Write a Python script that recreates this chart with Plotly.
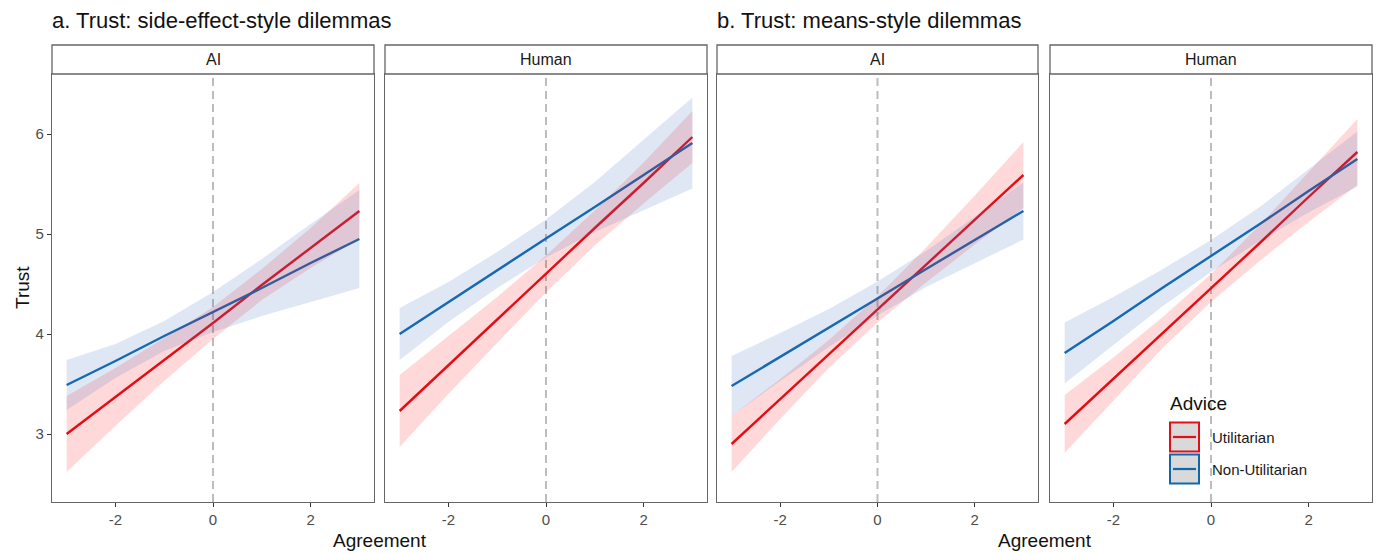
import plotly.graph_objects as go

# ---------------- data ----------------
agreement = [-3, -2, -1, 0, 1, 2, 3]

panels = ["a_AI", "a_Human", "b_AI", "b_Human"]
strip_labels = ["AI", "Human", "AI", "Human"]

# Utilitarian (red)
util_fit = {
    "a_AI":    [3.00, 3.37, 3.74, 4.11, 4.49, 4.86, 5.23],
    "a_Human": [3.23, 3.69, 4.14, 4.60, 5.06, 5.51, 5.97],
    "b_AI":    [2.90, 3.35, 3.80, 4.245, 4.69, 5.14, 5.59],
    "b_Human": [3.10, 3.55, 4.01, 4.46, 4.91, 5.37, 5.82],
}
util_low = {
    "a_AI":    [2.62, 3.08, 3.53, 3.95, 4.34, 4.66, 4.95],
    "a_Human": [2.87, 3.40, 3.91, 4.415, 4.885, 5.305, 5.71],
    "b_AI":    [2.62, 3.15, 3.66, 4.115, 4.515, 4.895, 5.26],
    "b_Human": [2.81, 3.335, 3.855, 4.32, 4.73, 5.12, 5.49],
}
util_high = {
    "a_AI":    [3.38, 3.66, 3.96, 4.27, 4.65, 5.06, 5.51],
    "a_Human": [3.59, 3.98, 4.37, 4.785, 5.235, 5.715, 6.23],
    "b_AI":    [3.18, 3.55, 3.94, 4.375, 4.865, 5.385, 5.92],
    "b_Human": [3.39, 3.765, 4.165, 4.60, 5.09, 5.62, 6.15],
}

# Non-Utilitarian (blue)
nonutil_fit = {
    "a_AI":    [3.49, 3.73, 3.98, 4.22, 4.46, 4.71, 4.95],
    "a_Human": [4.00, 4.32, 4.64, 4.955, 5.27, 5.59, 5.91],
    "b_AI":    [3.48, 3.77, 4.06, 4.355, 4.65, 4.94, 5.23],
    "b_Human": [3.81, 4.13, 4.46, 4.78, 5.10, 5.43, 5.75],
}
nonutil_low = {
    "a_AI":    [3.24, 3.56, 3.83, 4.02, 4.18, 4.32, 4.46],
    "a_Human": [3.74, 4.12, 4.46, 4.765, 5.02, 5.24, 5.455],
    "b_AI":    [3.18, 3.53, 3.87, 4.185, 4.47, 4.71, 4.945],
    "b_Human": [3.505, 3.89, 4.275, 4.62, 4.93, 5.215, 5.475],
}
nonutil_high = {
    "a_AI":    [3.74, 3.90, 4.13, 4.42, 4.75, 5.10, 5.44],
    "a_Human": [4.26, 4.52, 4.82, 5.145, 5.52, 5.94, 6.365],
    "b_AI":    [3.78, 4.01, 4.25, 4.525, 4.83, 5.17, 5.515],
    "b_Human": [4.115, 4.37, 4.645, 4.94, 5.27, 5.645, 6.025],
}

x_ticks = [-2, 0, 2]
y_ticks = [3, 4, 5, 6]

# ---------------- style ----------------
W, H = 1380, 553
FONT = "Liberation Sans, Arial, Helvetica, sans-serif"
RED = "#E0101B"
BLUE = "#0F68AE"
RED_FILL = "rgba(255,0,0,0.15)"
BLUE_FILL = "rgba(68,114,196,0.17)"
BORDER = "#666666"

px_domains = [(52, 374), (385, 707), (717, 1038), (1050, 1372)]
top_px, bot_px, strip_top_px = 74, 502, 45
yd = [1 - bot_px / H, 1 - top_px / H]

fig = go.Figure()
layout = dict(
    width=W, height=H, margin=dict(l=0, r=0, t=0, b=0),
    paper_bgcolor="white", plot_bgcolor="white", showlegend=False,
    font=dict(family=FONT, color="#1a1a1a"),
)
shapes, annotations = [], []

for i, p in enumerate(panels):
    n = "" if i == 0 else str(i + 1)
    xa, ya = "x" + n, "y" + n
    x0p, x1p = px_domains[i]
    layout["xaxis" + n] = dict(
        domain=[x0p / W, x1p / W], range=[-3.3, 3.3], anchor=ya,
        tickvals=x_ticks, ticktext=[str(v) for v in x_ticks],
        ticks="outside", ticklen=4, tickcolor="#333333", tickwidth=1.2,
        tickfont=dict(size=15, color="#4d4d4d", family=FONT),
        showgrid=False, zeroline=False, showline=True, mirror=True,
        linecolor=BORDER, linewidth=1.3,
    )
    layout["yaxis" + n] = dict(
        domain=yd, range=[2.32, 6.6], anchor=xa,
        tickvals=y_ticks, showticklabels=(i == 0),
        ticks="outside" if i == 0 else "", ticklen=4, tickcolor="#333333", tickwidth=1.2,
        tickfont=dict(size=15, color="#4d4d4d", family=FONT),
        showgrid=False, zeroline=False, showline=True, mirror=True,
        linecolor=BORDER, linewidth=1.3,
    )
    # lines first (ribbons drawn over them, as in the original)
    fig.add_trace(go.Scatter(x=agreement, y=util_fit[p], mode="lines",
                             line=dict(color=RED, width=2.4), xaxis=xa, yaxis=ya,
                             name="Utilitarian", hoverinfo="skip"))
    fig.add_trace(go.Scatter(x=agreement, y=nonutil_fit[p], mode="lines",
                             line=dict(color=BLUE, width=2.4), xaxis=xa, yaxis=ya,
                             name="Non-Utilitarian", hoverinfo="skip"))
    fig.add_trace(go.Scatter(x=agreement + agreement[::-1],
                             y=util_high[p] + util_low[p][::-1],
                             mode="lines", line=dict(width=0), fill="toself",
                             fillcolor=RED_FILL, xaxis=xa, yaxis=ya, hoverinfo="skip"))
    fig.add_trace(go.Scatter(x=agreement + agreement[::-1],
                             y=nonutil_high[p] + nonutil_low[p][::-1],
                             mode="lines", line=dict(width=0), fill="toself",
                             fillcolor=BLUE_FILL, xaxis=xa, yaxis=ya, hoverinfo="skip"))
    # dashed reference line at 0
    shapes.append(dict(type="line", xref=xa, yref=ya + " domain", x0=0, x1=0, y0=0, y1=1,
                       line=dict(color="#BDBDBD", width=2, dash="8px,5px"), layer="below"))
    # strip
    shapes.append(dict(type="rect", xref="paper", yref="paper",
                       x0=x0p / W, x1=x1p / W, y0=1 - top_px / H, y1=1 - strip_top_px / H,
                       fillcolor="white", line=dict(color=BORDER, width=1.3)))
    annotations.append(dict(xref="paper", yref="paper", x=(x0p + x1p) / 2 / W,
                            y=1 - (top_px + strip_top_px) / 2 / H, text=strip_labels[i],
                            showarrow=False, font=dict(size=16, color="#1a1a1a", family=FONT),
                            xanchor="center", yanchor="middle"))

# titles
annotations.append(dict(xref="paper", yref="paper", x=50 / W, y=1 - 20 / H, xanchor="left",
                        yanchor="middle", showarrow=False,
                        text="a. Trust: side-effect-style dilemmas",
                        font=dict(size=22, color="#111111", family=FONT)))
annotations.append(dict(xref="paper", yref="paper", x=715 / W, y=1 - 20 / H, xanchor="left",
                        yanchor="middle", showarrow=False,
                        text="b. Trust: means-style dilemmas",
                        font=dict(size=22, color="#111111", family=FONT)))
# axis titles
for cx in [(52 + 707) / 2, (717 + 1372) / 2]:
    annotations.append(dict(xref="paper", yref="paper", x=cx / W, y=1 - 540 / H,
                            xanchor="center", yanchor="middle", showarrow=False,
                            text="Agreement", font=dict(size=19, color="#111111", family=FONT)))
annotations.append(dict(xref="paper", yref="paper", x=22 / W, y=1 - 288 / H,
                        xanchor="center", yanchor="middle", showarrow=False, textangle=-90,
                        text="Trust", font=dict(size=19, color="#111111", family=FONT)))

# legend (drawn manually to reproduce the boxed keys)
annotations.append(dict(xref="paper", yref="paper", x=1168 / W, y=1 - 403 / H,
                        xanchor="left", yanchor="middle", showarrow=False,
                        text="Advice", font=dict(size=19, color="#111111", family=FONT)))
for k, (lab, col) in enumerate([("Utilitarian", RED), ("Non-Utilitarian", BLUE)]):
    cy = 437 + k * 32
    shapes.append(dict(type="rect", xref="paper", yref="paper",
                       x0=1170 / W, x1=1199 / W, y0=1 - (cy - 14.5) / H, y1=1 - (cy + 14.5) / H,
                       fillcolor="#D9D9D9", line=dict(color=col, width=2)))
    shapes.append(dict(type="line", xref="paper", yref="paper",
                       x0=1173 / W, x1=1196 / W, y0=1 - cy / H, y1=1 - cy / H,
                       line=dict(color=col, width=2.2)))
    annotations.append(dict(xref="paper", yref="paper", x=1210 / W, y=1 - cy / H,
                            xanchor="left", yanchor="middle", showarrow=False,
                            text=lab, font=dict(size=15, color="#1a1a1a", family=FONT)))

layout["shapes"] = shapes
layout["annotations"] = annotations
fig.update_layout(**layout)
fig.write_html("out.html")
